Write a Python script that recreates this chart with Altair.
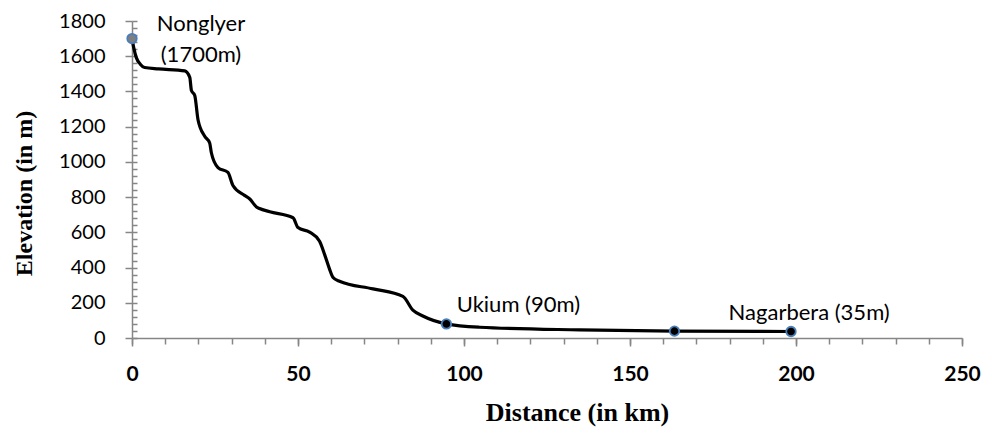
import altair as alt
import pandas as pd

# River profile (distance in km, elevation in m)
dist_km = [0, 0.5, 1.3, 2.5, 3.8, 8, 15.9, 17.4, 17.9, 18.9, 19.9, 21.9, 23.4,
           23.9, 25.9, 28.9, 30.4, 33.9, 35.4, 37.5, 38.4, 41.5, 48.5, 50.0,
           53.5, 56.5, 58.0, 59.5, 60.5, 62.5, 72.6, 81.6, 84.6, 87.6, 94.7,
           104.7, 134.8, 163.4, 198.5]
elev_m = [1700, 1650, 1592, 1555, 1536, 1528, 1517, 1480, 1405, 1377, 1238,
          1145, 1107, 1052, 968, 940, 866, 810, 791, 744, 735, 717, 683, 627,
          601, 549, 475, 391, 345, 322, 279, 236, 158, 125, 80, 61, 46, 39, 37]

station_km = [0, 94.7, 163.4, 198.5]
station_m = [1700, 80, 39, 37]
station_kind = ["source", "town", "town", "mouth"]
station_label = ["Nonglyer\n(1700m)", "Ukium (90m)", "", "Nagarbera (35m)"]

x_ticks = [0, 50, 100, 150, 200, 250]
y_ticks = [0, 200, 400, 600, 800, 1000, 1200, 1400, 1600, 1800]

profile = pd.DataFrame({"km": dist_km, "m": elev_m})
stations = pd.DataFrame({"km": station_km, "m": station_m,
                         "kind": station_kind, "label": station_label})

W, H = 830, 317
GRAY = "#868686"
xs = alt.Scale(domain=[0, 250], nice=False, zero=False)
ys = alt.Scale(domain=[0, 1800], nice=False)

main_x = alt.Axis(orient="bottom", values=x_ticks, tickSize=8, tickWidth=1.5,
                  tickColor=GRAY, domainColor=GRAY, domainWidth=1.5, grid=False,
                  format="d",
                  labelFont="Lato", labelFontSize=21, labelFontWeight="bold",
                  labelColor="black", labelPadding=17, labelFlush=False,
                  title="Distance (in km)", titleFont="Liberation Serif",
                  titleFontSize=26, titleFontWeight="bold", titleColor="black",
                  titleX=445, titleY=82, titleAlign="center",
                  titleBaseline="alphabetic", titleAnchor="start")
main_y = alt.Axis(orient="left", values=y_ticks, tickSize=7, tickWidth=1.5,
                  tickColor=GRAY, domainColor=GRAY, domainWidth=1.5, grid=False,
                  format="d",
                  labelFont="Lato", labelFontSize=20, labelColor="black",
                  labelPadding=20, labelFlush=False,
                  title="Elevation (in m)", titleFont="Liberation Serif",
                  titleFontSize=24, titleFontWeight="bold", titleColor="black",
                  titleX=-101, titleY=172, titleAngle=270, titleAlign="center",
                  titleBaseline="alphabetic", titleAnchor="start")
minor_x = alt.Axis(orient="bottom", values=list(range(0, 251, 10)), tickSize=6,
                   tickWidth=1.5, tickColor=GRAY, labels=False, domain=False,
                   grid=False, title=None)
minor_y = alt.Axis(orient="right", offset=-W, values=list(range(0, 1801, 40)),
                   tickSize=5, tickWidth=1.5, tickColor=GRAY, labels=False,
                   domain=False, grid=False, title=None)

line = alt.Chart(profile).mark_line(color="black", strokeWidth=3.2,
                                    interpolate="monotone").encode(
    x=alt.X("km:Q", scale=xs, axis=main_x),
    y=alt.Y("m:Q", scale=ys, axis=main_y),
)

points = alt.Chart(stations).mark_circle(size=90, opacity=1, stroke="#4a7ebb",
                                         strokeWidth=1.8).encode(
    x=alt.X("km:Q", scale=xs, axis=minor_x),
    y=alt.Y("m:Q", scale=ys, axis=minor_y),
    fill=alt.Fill("kind:N", scale=alt.Scale(domain=["source", "town", "mouth"],
                                            range=["#7f7f7f", "#000000", "#000000"]),
                  legend=None),
)


def label_layer(kind_value, dx, dy, align):
    return alt.Chart(stations).transform_filter(
        (alt.datum.kind == kind_value) & (alt.datum.label != "")
    ).mark_text(font="Lato", fontSize=22, color="black", align=align,
                baseline="alphabetic", dx=dx, dy=dy, lineBreak="\n",
                lineHeight=31.7).encode(
        x=alt.X("km:Q", scale=xs, axis=None),
        y=alt.Y("m:Q", scale=ys, axis=None),
        text="label:N",
    )


t_source = label_layer("source", 69, -8, "center")
t_town = label_layer("town", 10.3, -12.3, "left")
t_mouth = label_layer("mouth", -62.4, -11.7, "left")

chart = alt.layer(line, points, t_source, t_town, t_mouth).resolve_axis(
    x="independent", y="independent"
).properties(
    width=W, height=H,
    autosize=alt.AutoSizeParams(type="none"),
    padding={"left": 124, "top": 13, "right": 22, "bottom": 89},
).configure_view(stroke=None)

chart.save("out.html", embed_options={"renderer": "svg", "actions": False})
